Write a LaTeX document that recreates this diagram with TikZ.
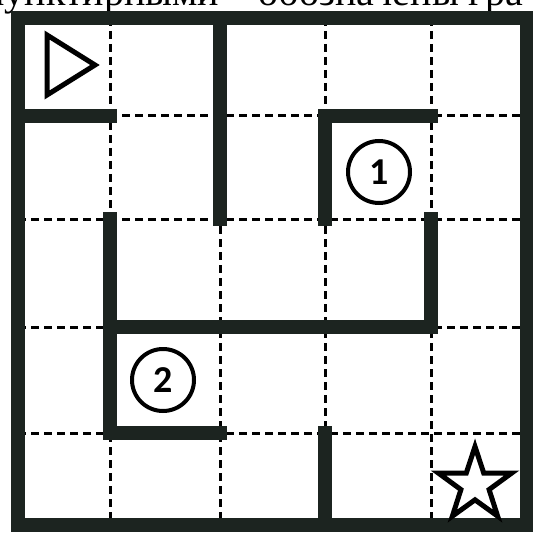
\documentclass[tikz,border=0pt]{standalone}
\usepackage{fontspec}
\setmainfont{Liberation Serif}
\newfontfamily\digitfont{Carlito}
\usetikzlibrary{shapes.geometric}
\definecolor{wallink}{RGB}{28,36,32}

\begin{document}
\begin{tikzpicture}[
    x=0.5pt, y=-0.5pt,
    wall/.style={draw=wallink, line width=7pt, line cap=rect},
    border/.style={draw=wallink, line width=7pt, line join=miter},
    passage/.style={draw=black, line width=1.5pt, dash pattern=on 4pt off 2.5pt},
    marker/.style={draw=black, line width=2pt, circle, minimum size=31pt, inner sep=0pt,
                   font=\digitfont\bfseries\fontsize{19}{19}\selectfont},
    goalstar/.style={draw=black, line width=2.5pt, star, star points=5, star point ratio=2.6,
                     minimum size=38.5pt, inner sep=0pt}
]
\useasboundingbox (0,0) rectangle (532,534);

% -------- Caption cut off by the top edge --------
\begin{scope}
  \clip (0,0) rectangle (532,534);
  \node[anchor=base west, inner sep=0pt, font=\fontsize{20}{20}\selectfont] (caption) at (-17,6)
       {пунктирными – обозначены гра};
\end{scope}

% -------- Passages (dashed grid) --------
\foreach \x in {110,220,325,431}
  \draw[passage] (\x,18) -- (\x,525);
\foreach \y in {116,219,327,433}
  \draw[passage] (18,\y) -- (527,\y);

% -------- Walls --------
\draw[wall] (18,116) -- (110,116);
\draw[wall] (220,18) -- (220,219);
\draw[wall] (325,219) -- (325,116) -- (431,116);
\draw[wall] (431,219) -- (431,327) -- (110,327);
\draw[wall] (110,219) -- (110,433) -- (220,433);
\draw[wall] (325,433) -- (325,525);
\draw[border] (18,18) rectangle (527,525);

% -------- Start, checkpoints, goal --------
\draw[line width=2.5pt, line join=miter] (47,35) -- (47,95) -- (95,65) -- cycle;
\node[marker] (one) at (379,172) {1};
\node[marker] (two) at (163,380) {2};
\node[goalstar] (goal) at (475,485) {};

\end{tikzpicture}
\end{document}
